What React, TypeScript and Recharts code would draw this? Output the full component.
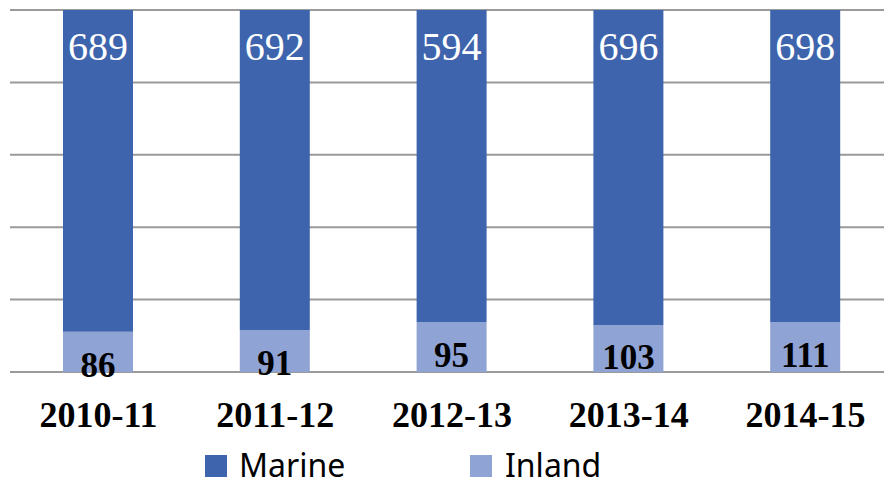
import React from 'react'
import { BarChart, Bar, XAxis, YAxis, CartesianGrid, LabelList } from 'recharts'

// fiscal years
const years = ['2010-11', '2011-12', '2012-13', '2013-14', '2014-15']
const marine = [689, 692, 594, 696, 698]
const inland = [86, 91, 95, 103, 111]
const gridTicks = [0, 0.2, 0.4, 0.6, 0.8, 1]

const MARINE_COLOR = '#3d64ad'
const INLAND_COLOR = '#8fa3d5'
const SERIF = '"Liberation Serif", "Times New Roman", serif'

const chartData = years.map((year, i) => ({
    year,
    marine: marine[i],
    inland: inland[i],
}))

const YearTick = (props: any) => {
    const { x, y, payload } = props
    return (
        <text x={x} y={y + 55} textAnchor="middle" fontFamily={SERIF} fontWeight="bold" fontSize={36} fill="#000">
            {payload.value}
        </text>
    )
}

const MarineLabel = (props: any) => {
    const { x, y, width, value } = props
    return (
        <text x={x + width / 2} y={y + 50} textAnchor="middle" fontFamily={SERIF} fontSize={40} fill="#fff">
            {value}
        </text>
    )
}

const InlandLabel = (props: any) => {
    const { x, y, width, height, value } = props
    // label sits low in the segment, a bit higher on taller segments
    const lift = Math.min(17, Math.max(5, (height - 35) * 1.25))
    return (
        <text x={x + width / 2} y={y + height - lift + 11.5} textAnchor="middle" fontFamily={SERIF} fontWeight="bold" fontSize={35} fill="#000">
            {value}
        </text>
    )
}

const legendText: React.CSSProperties = {
    position: 'absolute',
    top: 451,
    fontFamily: '"Noto Sans", sans-serif',
    fontSize: 32,
    lineHeight: '28px',
    color: '#000',
    whiteSpace: 'nowrap',
}

export default function App() {
    return (
        <div style={{ position: 'absolute', left: 0, top: 0, width: 884, height: 487, overflow: 'hidden', background: '#fff' }}>
            <BarChart
                width={904}
                height={487}
                data={chartData}
                stackOffset="expand"
                margin={{ top: 10, right: 10, left: 10, bottom: 0 }}
            >
                <CartesianGrid vertical={false} stroke="#9a9a9a" strokeWidth={2} />
                <XAxis
                    dataKey="year"
                    height={115}
                    axisLine={false}
                    tickLine={false}
                    tickSize={0}
                    tickMargin={0}
                    tick={<YearTick />}
                />
                <YAxis hide domain={[0, 1]} ticks={gridTicks} />
                <Bar dataKey="inland" stackId="a" fill={INLAND_COLOR} barSize={70} isAnimationActive={false}>
                    <LabelList dataKey="inland" content={<InlandLabel />} />
                </Bar>
                <Bar dataKey="marine" stackId="a" fill={MARINE_COLOR} barSize={70} isAnimationActive={false}>
                    <LabelList dataKey="marine" content={<MarineLabel />} />
                </Bar>
            </BarChart>

            {/* Legend */}
            <div style={{ position: 'absolute', left: 205, top: 455, width: 22, height: 22, background: MARINE_COLOR }} />
            <div style={{ ...legendText, left: 239 }}>Marine</div>
            <div style={{ position: 'absolute', left: 470, top: 455, width: 22, height: 22, background: INLAND_COLOR }} />
            <div style={{ ...legendText, left: 505 }}>Inland</div>
        </div>
    )
}
